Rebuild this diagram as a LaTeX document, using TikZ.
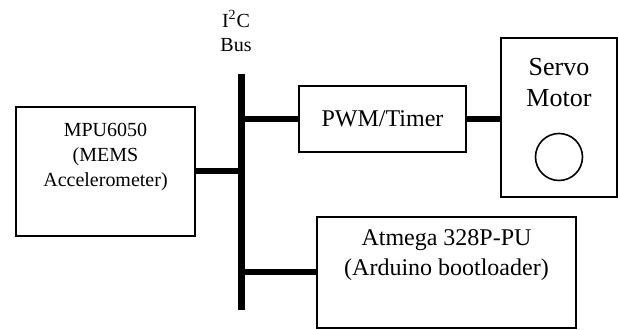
\documentclass[tikz,border=0pt]{standalone}
\usepackage{fontspec}
\setmainfont{Liberation Serif}
\usetikzlibrary{positioning}

\begin{document}
\begin{tikzpicture}[
    x=0.5pt, y=-0.5pt,
    block/.style={draw, line width=0.8pt, inner sep=0pt},
    txt/.style={font=\fontsize{12}{15}\selectfont, align=center, inner sep=0pt},
    wire/.style={line width=3pt},
  ]
    \useasboundingbox (0,0) rectangle (618,330);

    % Bus
    \node[txt, font=\fontsize{10}{12}\selectfont] (buslbl) at (236,31) {I\textsuperscript{2}C\\Bus};
    \coordinate (bustop) at (241.5,74);
    \coordinate (busbot) at (241.5,310);
    \draw[line width=3.5pt] (bustop) -- (busbot);

    % Sensor
    \node[block, minimum width=89.5pt, minimum height=64.5pt] (mpu) at (105.5,171.5) {};
    \node[txt, font=\fontsize{10}{12.5}\selectfont] (mputxt) at (105.5,157) {MPU6050\\(MEMS\\Accelerometer)};

    % PWM
    \node[block, txt, minimum width=83.5pt, minimum height=33pt] (pwm) at (382.5,119) {PWM/Timer};

    % Servo
    \node[block, minimum width=58pt, minimum height=79.5pt] (servo) at (559,117.5) {};
    \node[txt, font=\fontsize{13}{15.5}\selectfont] (servotxt) at (559,83) {Servo\\Motor};
    \node[circle, draw, line width=0.8pt, minimum size=23.5pt, inner sep=0pt] (rotor) at (559,157) {};

    % MCU
    \node[block, minimum width=129.5pt, minimum height=55.5pt] (atm) at (446.5,272.5) {};
    \node[txt, font=\fontsize{12}{15}\selectfont] (atmtxt) at (446.5,255) {Atmega 328P-PU\\(Arduino bootloader)};

    % Connections
    \draw[wire] (mpu.east) -- (mpu.east -| bustop);
    \draw[wire] (pwm.west -| bustop) -- (pwm.west);
    \draw[wire] (pwm.east) -- (pwm.east -| servo.west);
    \draw[wire] (atm.west -| bustop) -- (atm.west);
\end{tikzpicture}
\end{document}
